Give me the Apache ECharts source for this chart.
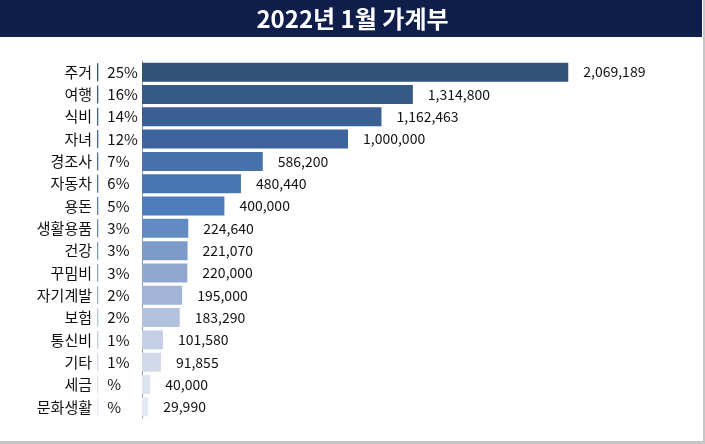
<!DOCTYPE html>
<html>
<head>
<meta charset="utf-8">
<script src="https://cdn.jsdelivr.net/npm/echarts@6/dist/echarts.min.js"></script>
<style>
html,body{margin:0;padding:0;background:#fff;}
#chart{width:705px;height:444px;}
</style>
</head>
<body>
<div id="chart"></div>
<script>
const titleText = '2022년 1월 가계부';
const categories = ['주거','여행','식비','자녀','경조사','자동차','용돈','생활용품','건강','꾸밈비','자기계발','보험','통신비','기타','세금','문화생활'];
const values = [2069189,1314800,1162463,1000000,586200,480440,400000,224640,221070,220000,195000,183290,101580,91855,40000,29990];
const percents = ['25%','16%','14%','12%','7%','6%','5%','3%','3%','3%','2%','2%','1%','1%','%','%'];
const colors = ['#32527a','#355a87','#395f93','#3d659d','#4671a9','#4876b0','#4d7dbb','#638bc3','#7d9bc8','#90a8d0','#a1b4d8','#b2c1de','#c4cfe5','#d1d9ea','#dde3ef','#e3e8f2'];

const FONT = '"Noto Sans CJK KR", "Noto Sans", sans-serif';
const chart = echarts.init(document.getElementById('chart'));

const sepRich = { g: { width: 9 }, p: { fontSize: 15, color: '#111', fontFamily: FONT } };
colors.forEach((c, i) => {
  sepRich['s' + i] = { width: 1.3, height: 18, backgroundColor: c };
});

chart.setOption({
  animation: false,
  title: {
    text: titleText,
    left: 'center',
    top: 2,
    textStyle: { color: '#fff', fontSize: 24, fontWeight: 'bold', fontFamily: FONT }
  },
  graphic: [
    { type: 'rect', z: -10, shape: { x: 0, y: 0, width: 702, height: 37 }, style: { fill: '#0f1e4a' } },
    { type: 'rect', z: -10, shape: { x: 703, y: 0, width: 2, height: 444 }, style: { fill: '#c6c6c6' } },
    { type: 'rect', z: -10, shape: { x: 0, y: 441, width: 705, height: 3 }, style: { fill: '#c6c6c6' } }
  ],
  grid: { left: 142, right: 48, top: 61, bottom: 26, containLabel: false },
  xAxis: { type: 'value', min: 0, max: 2500000, show: false },
  yAxis: [
    {
      type: 'category',
      data: categories,
      inverse: true,
      position: 'left',
      axisTick: { show: false },
      axisLine: { show: true, lineStyle: { color: '#999', width: 1 } },
      axisLabel: { margin: 50, fontSize: 15, color: '#111', fontFamily: FONT }
    },
    {
      type: 'category',
      data: categories,
      inverse: true,
      position: 'left',
      offset: 0,
      axisTick: { show: false },
      axisLine: { show: false },
      axisLabel: {
        margin: 45,
        align: 'left',
        formatter: (v, i) => '{s' + i + '|}{g|}{p|' + percents[i] + '}',
        rich: sepRich
      }
    }
  ],
  series: [{
    type: 'bar',
    yAxisIndex: 0,
    barWidth: 19,
    data: values.map((v, i) => ({ value: v, itemStyle: { color: colors[i] } })),
    label: {
      show: true,
      position: 'right',
      distance: 15,
      fontSize: 14,
      color: '#111',
      fontFamily: FONT,
      formatter: p => p.value.toLocaleString('en-US')
    }
  }]
});
</script>
</body>
</html>
